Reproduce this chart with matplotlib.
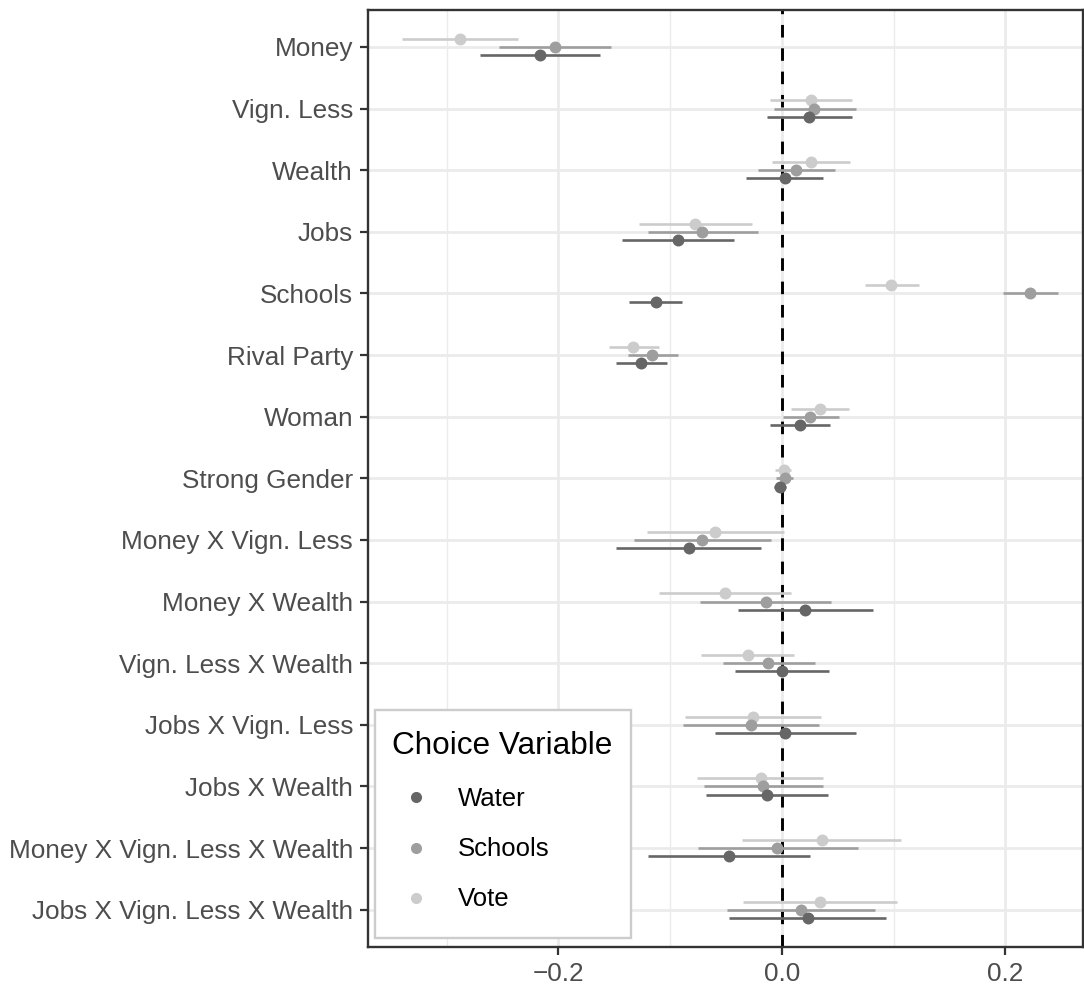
import matplotlib
matplotlib.use("Agg")
import matplotlib.pyplot as plt
from matplotlib.patches import Rectangle
import numpy as np

plt.rcParams['font.family'] = ['Liberation Sans', 'DejaVu Sans']

terms = ["Money", "Vign. Less", "Wealth", "Jobs", "Schools", "Rival Party", "Woman",
         "Strong Gender", "Money X Vign. Less", "Money X Wealth", "Vign. Less X Wealth",
         "Jobs X Vign. Less", "Jobs X Wealth", "Money X Vign. Less X Wealth",
         "Jobs X Vign. Less X Wealth"]

series = ["Water", "Schools", "Vote"]

water_est = [-0.216, 0.024, 0.003, -0.093, -0.113, -0.126, 0.016, -0.002, -0.083, 0.021, 0.000, 0.003, -0.013, -0.047, 0.023]
water_lo  = [-0.270, -0.013, -0.032, -0.143, -0.137, -0.148, -0.011, -0.007, -0.148, -0.039, -0.042, -0.060, -0.068, -0.120, -0.047]
water_hi  = [-0.163, 0.063, 0.037, -0.043, -0.089, -0.103, 0.043, 0.004, -0.019, 0.082, 0.042, 0.066, 0.041, 0.025, 0.093]

schools_est = [-0.203, 0.029, 0.013, -0.071, 0.222, -0.116, 0.025, 0.003, -0.071, -0.014, -0.012, -0.028, -0.017, -0.004, 0.017]
schools_lo  = [-0.253, -0.007, -0.021, -0.120, 0.198, -0.138, 0.001, -0.005, -0.132, -0.073, -0.053, -0.088, -0.070, -0.075, -0.049]
schools_hi  = [-0.153, 0.066, 0.048, -0.021, 0.247, -0.093, 0.051, 0.010, -0.010, 0.044, 0.030, 0.033, 0.037, 0.068, 0.083]

vote_est = [-0.288, 0.026, 0.026, -0.078, 0.098, -0.133, 0.034, 0.002, -0.060, -0.051, -0.030, -0.026, -0.019, 0.036, 0.034]
vote_lo  = [-0.340, -0.011, -0.009, -0.128, 0.074, -0.155, 0.008, -0.006, -0.121, -0.110, -0.072, -0.087, -0.076, -0.036, -0.035]
vote_hi  = [-0.236, 0.063, 0.061, -0.027, 0.123, -0.110, 0.060, 0.008, 0.002, 0.008, 0.011, 0.035, 0.037, 0.107, 0.103]

colors = {"Water": "#666666", "Schools": "#9E9E9E", "Vote": "#CCCCCC"}
offsets = {"Water": 0.133, "Schools": 0.0, "Vote": -0.133}
data = {"Water": (water_est, water_lo, water_hi),
        "Schools": (schools_est, schools_lo, schools_hi),
        "Vote": (vote_est, vote_lo, vote_hi)}

fig = plt.figure(figsize=(10.84, 9.86), dpi=100)
W, H = 1084, 986
x0, x1, y0, y1 = 368.3, 1083.0, 10.0, 946.7
ax = fig.add_axes([x0 / W, 1 - y1 / H, (x1 - x0) / W, (y1 - y0) / H])

ypos = np.arange(len(terms))
ax.set_xlim(-0.370, 0.2695)
ax.set_ylim(len(terms) - 1 + 0.6, -0.6)

ax.set_xticks([-0.2, 0.0, 0.2])
ax.set_xticklabels(["\u22120.2", "0.0", "0.2"])
ax.set_xticks([-0.3, -0.1, 0.1], minor=True)
ax.set_yticks(ypos)
ax.set_yticklabels(terms)

ax.grid(True, which='major', color='#EBEBEB', lw=2.0, zorder=0)
ax.grid(True, which='minor', axis='x', color='#EBEBEB', lw=1.0, zorder=0)
ax.set_axisbelow(True)
ax.tick_params(which='major', length=6, width=1.6, color='#333333', labelsize=18.8,
               labelcolor='#4D4D4D', pad=5)
ax.tick_params(which='minor', length=0)
for s in ax.spines.values():
    s.set_color('#333333')
    s.set_linewidth(1.7)

ax.axvline(0, color='black', lw=2.1, ls=(0, (4.3, 3.7)), zorder=1)

for name in ["Vote", "Schools", "Water"]:
    est, lo, hi = data[name]
    yy = ypos + offsets[name]
    ax.hlines(yy, lo, hi, color=colors[name], lw=1.9, zorder=2)
    ax.plot(est, yy, 'o', color=colors[name], ms=8.6, mec='none', zorder=3)

# legend (drawn in figure pixel layout, ggplot-style inside bottom-left)
def fx(px):
    return px / W

def fy(py):
    return 1 - py / H

tf = fig.transFigure
ax.add_patch(Rectangle((fx(375), fy(938)), fx(631) - fx(375), fy(710) - fy(938),
                       transform=tf, facecolor='white', edgecolor='#CCCCCC', lw=1.7,
                       zorder=5, clip_on=False))
ax.text(fx(391.5), fy(745.5), "Choice Variable", transform=tf, fontsize=22.7,
        color='black', ha='left', va='center', zorder=6)
row_y = [797, 848, 898]
for name, ry in zip(series, row_y):
    ax.plot([fx(416)], [fy(ry)], 'o', transform=tf, color=colors[name], ms=8,
            mec='none', zorder=6, clip_on=False)
    ax.text(fx(458), fy(ry + 1.5), name, transform=tf, fontsize=18.5, color='black',
            ha='left', va='center', zorder=6)

fig.savefig("out.png", dpi=100)
